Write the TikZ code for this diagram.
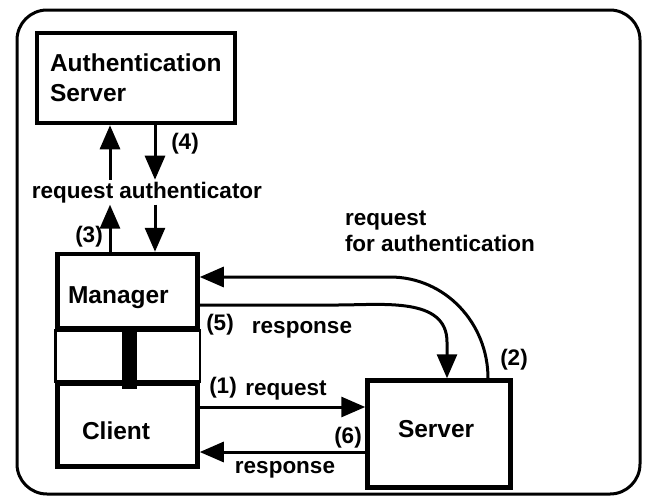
\documentclass[tikz,border=0pt]{standalone}
\usepackage{fontspec}
\setmainfont{Liberation Sans}
\usetikzlibrary{positioning}
\usetikzlibrary{arrows.meta}
\tikzset{box/.style={draw,line width=4.5pt,inner sep=0pt,align=left,font=\fontsize{24.5}{30}\selectfont\bfseries}}
\tikzset{flow/.style={line width=3pt,-{Triangle[length=24pt,width=20pt]}}}
\tikzset{lbl/.style={inner sep=0pt,outer sep=2pt,font=\fontsize{22.5}{26}\selectfont\bfseries}}

\begin{document}
\begin{tikzpicture}[x=1pt,y=-1pt]
\useasboundingbox (0,0) rectangle (645,499);
\draw[line width=3pt,rounded corners=30pt] (17,10) rectangle (640,494);
\node[box,minimum width=198pt,minimum height=90pt,text width=172pt] (auth) at (136,78) {Authentication\\Server};
\node[box,minimum width=140pt,minimum height=74pt,text width=119pt] (manager) at (127.5,291) {\raisebox{-12pt}[0pt][0pt]{Manager}};
\node[box,minimum width=140pt,minimum height=83pt,text width=91pt] (client) at (127.5,425) {\raisebox{-14pt}[0pt][0pt]{Client}};
\node[box,minimum width=143pt,minimum height=107pt,text width=82pt] (server) at (439,434) {\raisebox{-3pt}[0pt][0pt]{Server}};
\draw[line width=2.5pt] (manager.south west) rectangle (client.north east);
\draw[line width=15pt] ([xshift=2pt]manager.south) -- ([xshift=2pt,yshift=-8pt]client.north);
\node[lbl,anchor=base] (reqauth) at (147,198) {request authenticator};
\coordinate (up) at (110,0);
\coordinate (dn) at (155,0);
\draw[flow] (reqauth.north -| up) -- (auth.south -| up);
\draw[flow] (manager.north -| up) -- (reqauth.south -| up);
\draw[flow] (auth.south -| dn) -- (reqauth.north -| dn);
\draw[flow] (reqauth.south -| dn) -- (manager.north -| dn);
\node[lbl,anchor=base] (n3) at (89,242) {(3)};
\node[lbl,anchor=base] (n4) at (185,149) {(4)};
% request for authentication
\coordinate (a2) at (488,0);
\coordinate (c2) at (390,277);
\draw[flow] (server.north -| a2) to[out=90,in=0] (c2) -- (c2 -| manager.east);
\node[lbl,anchor=north west,align=left] (reqfor) at (343,209) {request\\for authentication};
\node[lbl,anchor=base] (n2) at (514,365) {(2)};
% response to server
\coordinate (c5) at (337,305);
\coordinate (d5) at (447,342);
\draw[flow] (c5 -| manager.east) -- (c5) to[out=0,in=90] (d5) -- (server.north -| d5);
\node[lbl,anchor=base] (n5) at (220,330) {(5)};
\node[lbl,anchor=base] (resp5) at (302,333) {response};
% client and server
\coordinate (r1) at (0,407);
\coordinate (r6) at (0,452);
\draw[flow] (client.east |- r1) -- (server.west |- r1);
\draw[flow] (server.west |- r6) -- (client.east |- r6);
\node[lbl,anchor=base] (n1) at (223,393) {(1)};
\node[lbl,anchor=base] (req1) at (286,395) {request};
\node[lbl,anchor=base] (n6) at (348,443) {(6)};
\node[lbl,anchor=base] (resp6) at (285,473) {response};
\end{tikzpicture}
\end{document}
